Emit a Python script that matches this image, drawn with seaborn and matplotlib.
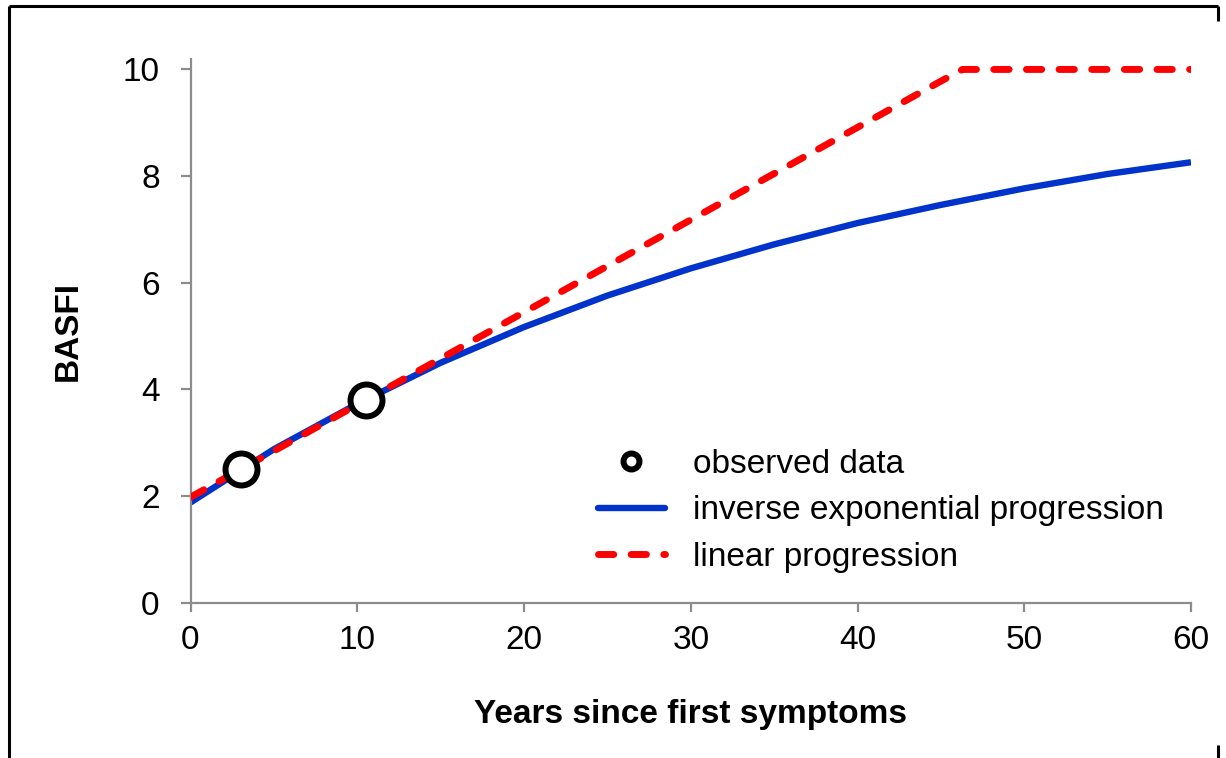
import matplotlib
matplotlib.use("Agg")
import matplotlib.pyplot as plt
from matplotlib.lines import Line2D
import seaborn as sns
import pandas as pd

# ---- data ----
obs_years = [3.0, 10.5]
obs_basfi = [2.5, 3.8]

exp_years = [0, 5, 10, 15, 20, 25, 30, 35, 40, 45, 50, 55, 60]
exp_basfi = [1.88, 2.88, 3.73, 4.50, 5.17, 5.76, 6.27, 6.72, 7.12, 7.46, 7.77, 8.04, 8.26]

lin_years = [0, 3, 10.5, 45.0, 46.3, 60]
lin_basfi = [1.98, 2.5, 3.8, 9.78, 10.0, 10.0]

x_ticks = [0, 10, 20, 30, 40, 50, 60]
y_ticks = [0, 2, 4, 6, 8, 10]

labels = ["observed data", "inverse exponential progression", "linear progression"]

sns.set_theme(style="white")
plt.rcParams['font.family'] = ['Liberation Sans', 'DejaVu Sans']
plt.rcParams['text.color'] = 'black'
plt.rcParams['axes.labelcolor'] = 'black'

W, H = 1226, 758
fig = plt.figure(figsize=(W / 100, H / 100), dpi=100)
ax = fig.add_axes([190.5 / W, 1 - 602.8 / H, (1191 - 190.5) / W, (602.8 - 59.3) / H])

blue = "#0033cc"
red = "#ff0000"

df_exp = pd.DataFrame({"x": exp_years, "y": exp_basfi})
df_lin = pd.DataFrame({"x": lin_years, "y": lin_basfi})
df_obs = pd.DataFrame({"x": obs_years, "y": obs_basfi})

sns.lineplot(data=df_exp, x="x", y="y", ax=ax, color=blue, lw=4.6,
             solid_capstyle="butt", zorder=2, estimator=None, sort=True)
sns.lineplot(data=df_lin, x="x", y="y", ax=ax, color=red, lw=5.0,
             linestyle=(0, (2.2, 2.5)), zorder=3, estimator=None, sort=True)
ax.lines[-1].set_dash_capstyle("round")
ax.lines[-1].set_solid_joinstyle("round")
ax.lines[-1].set_dash_joinstyle("round")
sns.scatterplot(data=df_obs, x="x", y="y", ax=ax, s=530, facecolor="white",
                edgecolor="black", linewidth=4.3, zorder=4)

ax.set_xlim(0, 60)
ax.set_ylim(0, 10.19)
ax.set_xticks(x_ticks)
ax.set_yticks(y_ticks)
ax.set_xticklabels([str(v) for v in x_ticks])
ax.set_yticklabels([str(v) for v in y_ticks])

spine_col = "#8c8c8c"
for s in ["top", "right"]:
    ax.spines[s].set_visible(False)
for s in ["left", "bottom"]:
    ax.spines[s].set_color(spine_col)
    ax.spines[s].set_linewidth(1.6)

ax.tick_params(axis="both", which="major", direction="out", color=spine_col,
               width=1.6, labelsize=24, labelcolor="black")
ax.tick_params(axis="y", length=7.2, pad=15, left=True)
ax.tick_params(axis="x", length=6.5, pad=9.5, bottom=True)

ax.set_xlabel("Years since first symptoms", fontsize=24, fontweight="bold",
              color="black", va="center")
ax.xaxis.set_label_coords(0.5, (602.8 - 715) / (602.8 - 59.3))
ax.set_ylabel("BASFI", fontsize=24, fontweight="bold", color="black",
              va="center", ha="center")
ax.yaxis.set_label_coords((68 - 190.5) / (1191 - 190.5), 0.5)

handles = [
    Line2D([], [], linestyle="none", marker="o", markersize=11.5,
           markerfacecolor="white", markeredgecolor="black", markeredgewidth=4.3),
    Line2D([], [], color=blue, lw=4.6, solid_capstyle="round"),
    Line2D([], [], color=red, lw=5.0, linestyle=(0, (2.2, 2.5)),
           dash_capstyle="round"),
]
leg = ax.legend(handles=handles, labels=labels, loc="upper left",
                bbox_to_anchor=(598 / W, 1 - 449 / H), bbox_transform=fig.transFigure,
                frameon=False, fontsize=24, handlelength=2.0, handletextpad=0.85,
                labelspacing=0.46, borderpad=0, borderaxespad=0)
for t in leg.get_texts():
    t.set_color("black")

# outer frame (partial, as in the reference)
fk = dict(color="black", lw=2.2, transform=fig.transFigure, solid_capstyle="butt")
fig.add_artist(Line2D([8.5 / W, 8.5 / W], [0, 1 - 5.5 / H], **fk))
fig.add_artist(Line2D([8.5 / W, 1217.5 / W], [1 - 5.5 / H, 1 - 5.5 / H], **fk))
fig.add_artist(Line2D([1217.5 / W, 1217.5 / W], [1 - 5.5 / H, 1 - 21 / H], **fk))
fig.add_artist(Line2D([1217.5 / W, 1217.5 / W], [1 - 745 / H, 0], **fk))

fig.savefig("out.png", dpi=100, facecolor="white")
